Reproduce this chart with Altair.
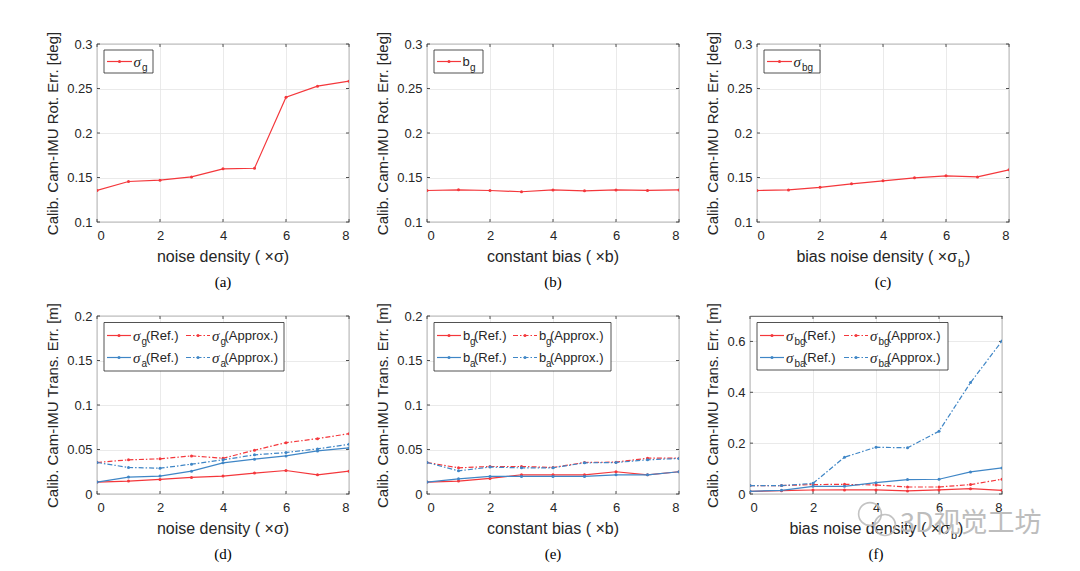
import altair as alt
import pandas as pd

# ---------------- data ----------------
x_vals = [0, 1, 2, 3, 4, 5, 6, 7, 8]

rot_noise_sg = [0.1354, 0.1455, 0.1470, 0.1507, 0.1597, 0.1604, 0.2403, 0.2526, 0.2582]
rot_bias_bg = [0.1354, 0.1362, 0.1354, 0.1340, 0.1360, 0.1350, 0.1360, 0.1355, 0.1360]
rot_bnoise_sbg = [0.1354, 0.1360, 0.1390, 0.1429, 0.1463, 0.1496, 0.1519, 0.1507, 0.1586]

tr_noise_sg_ref = [0.0134, 0.0145, 0.0164, 0.0186, 0.0201, 0.0235, 0.0264, 0.0216, 0.0257]
tr_noise_sg_app = [0.0354, 0.0384, 0.0395, 0.0428, 0.0402, 0.0492, 0.0577, 0.0622, 0.0678]
tr_noise_sa_ref = [0.0134, 0.0190, 0.0201, 0.0257, 0.0350, 0.0391, 0.0428, 0.0484, 0.0518]
tr_noise_sa_app = [0.0354, 0.0298, 0.0290, 0.0335, 0.0384, 0.0440, 0.0466, 0.0507, 0.0559]

tr_bias_bg_ref = [0.0134, 0.0145, 0.0175, 0.0216, 0.0216, 0.0216, 0.0250, 0.0216, 0.0250]
tr_bias_bg_app = [0.0354, 0.0294, 0.0309, 0.0309, 0.0298, 0.0354, 0.0358, 0.0402, 0.0402]
tr_bias_ba_ref = [0.0134, 0.0171, 0.0197, 0.0197, 0.0197, 0.0197, 0.0216, 0.0216, 0.0250]
tr_bias_ba_app = [0.0354, 0.0260, 0.0302, 0.0294, 0.0294, 0.0350, 0.0354, 0.0384, 0.0399]

tr_bn_sbg_ref = [0.0105, 0.0130, 0.0158, 0.0160, 0.0160, 0.0120, 0.0160, 0.0210, 0.0145]
tr_bn_sbg_app = [0.0330, 0.0330, 0.0370, 0.0380, 0.0355, 0.0276, 0.0276, 0.0370, 0.0580]
tr_bn_sba_ref = [0.0105, 0.0145, 0.0300, 0.0300, 0.0447, 0.0566, 0.0580, 0.0870, 0.1026]
tr_bn_sba_app = [0.0330, 0.0330, 0.0420, 0.1447, 0.1840, 0.1816, 0.2470, 0.4380, 0.6020]

x_ticks = [0, 2, 4, 6, 8]
rot_ticks = [0.1, 0.15, 0.2, 0.25, 0.3]
tr_ticks_small = [0, 0.05, 0.1, 0.15, 0.2]
tr_ticks_big = [0, 0.2, 0.4, 0.6]

# ---------------- styles ----------------
RED = "#f4373b"
BLUE = "#3f86c6"
DASHDOT = [5, 2, 1.5, 2]
TXT = "#262626"
W, H = 252, 178
TL = 3  # inward tick length
ONE = pd.DataFrame({"k": [0]})


def xs(ax=None):
    kw = dict(scale=alt.Scale(domain=[0, 8], nice=False))
    if ax is not None:
        kw["axis"] = ax
    return alt.X("x:Q", **kw)


def ys(ydom, ax=None):
    kw = dict(scale=alt.Scale(domain=ydom, nice=False))
    if ax is not None:
        kw["axis"] = ax
    return alt.Y("y:Q", **kw)


def series_layer(vals, color, dashed, ydom):
    df = pd.DataFrame({"x": x_vals, "y": vals})
    kw = dict(color=color, strokeWidth=1.2, clip=True,
              point=alt.OverlayMarkDef(filled=True, size=9, color=color))
    if dashed:
        kw["strokeDash"] = DASHDOT
    return alt.Chart(df).mark_line(**kw).encode(x=xs(), y=ys(ydom))


def axes_layers(ydom, yticks, ytitle):
    df = pd.DataFrame({"x": [0], "y": [ydom[0]]})
    base = alt.Chart(df).mark_point(opacity=0).encode(
        x=xs(alt.Axis(values=x_ticks, title=None, grid=True)),
        y=ys(ydom, alt.Axis(values=yticks, title=ytitle, format="~g", grid=True)),
    )
    xt = alt.Chart(pd.DataFrame({"x": x_ticks}))
    yt = alt.Chart(pd.DataFrame({"y": yticks}))
    rk = dict(color=TXT, strokeWidth=0.8)
    return [
        base,
        xt.mark_rule(**rk).encode(x=xs(), y=alt.value(H), y2=alt.value(H - TL)),
        xt.mark_rule(**rk).encode(x=xs(), y=alt.value(0), y2=alt.value(TL)),
        yt.mark_rule(**rk).encode(y=ys(ydom), x=alt.value(0), x2=alt.value(TL)),
        yt.mark_rule(**rk).encode(y=ys(ydom), x=alt.value(W - TL), x2=alt.value(W)),
    ]


def txt(t, x, y, size=13, font="Liberation Sans", style="normal", color=TXT, align="left"):
    return alt.Chart(ONE).mark_text(
        text=t, align=align, baseline="middle", font=font, fontSize=size,
        fontStyle=style, color=color
    ).encode(x=alt.value(x), y=alt.value(y))


def legend_layers(box, entries):
    x1, x2, y1, y2 = box
    layers = [alt.Chart(ONE).mark_rect(fill="white", stroke=TXT, strokeWidth=0.8).encode(
        x=alt.value(x1), x2=alt.value(x2), y=alt.value(y1), y2=alt.value(y2))]
    for e in entries:
        kw = dict(color=e["color"], strokeWidth=1.2)
        if e["dash"]:
            kw["strokeDash"] = DASHDOT
        layers.append(alt.Chart(ONE).mark_rule(**kw).encode(
            x=alt.value(e["lx"][0]), x2=alt.value(e["lx"][1]), y=alt.value(e["y"])))
        layers.append(alt.Chart(ONE).mark_point(filled=True, size=9, color=e["color"], opacity=1).encode(
            x=alt.value((e["lx"][0] + e["lx"][1]) / 2), y=alt.value(e["y"])))
        if e["sym"] == "σ":
            layers.append(txt("σ", e["sx"], e["y"], size=15, font="Liberation Serif", style="italic"))
        else:
            layers.append(txt(e["sym"], e["sx"], e["y"], size=13))
        layers.append(txt(e["sub"], e["bx"], e["y"] + 6, size=10))
        if e.get("rest"):
            layers.append(txt(e["rest"], e["rx"], e["y"], size=13))
    return layers


def xtitle_layers(xtitle):
    if isinstance(xtitle, str):
        return [txt(xtitle, W / 2, H + 35, size=16, align="center")]
    main, sub = xtitle
    return [txt(main, 200, H + 35, size=16, align="right"),
            txt(sub, 201, H + 42, size=11),
            txt(")", 208, H + 35, size=16)]


def panel(series, ydom, yticks, ytitle, xtitle, label, legend, extra=()):
    layers = axes_layers(ydom, yticks, ytitle)
    for vals, color, dashed in series:
        layers.append(series_layer(vals, color, dashed, ydom))
    layers += legend_layers(*legend)
    layers += xtitle_layers(xtitle)
    layers.append(txt(label, W / 2, H + 60, size=15, font="Liberation Serif",
                      color="black", align="center"))
    layers += list(extra)
    return alt.layer(*layers).properties(width=W, height=H)


ROT_T = "Calib. Cam-IMU Rot. Err. [deg]"
TR_T = "Calib. Cam-IMU Trans. Err. [m]"

pa = panel([(rot_noise_sg, RED, False)], [0.1, 0.3], rot_ticks, ROT_T,
           "noise density ( ×σ)", "(a)",
           ((7, 56, 6, 29), [dict(color=RED, dash=False, lx=(10, 35), y=17.5,
                                  sym="σ", sx=36.5, sub="g", bx=45)]))
pb = panel([(rot_bias_bg, RED, False)], [0.1, 0.3], rot_ticks, ROT_T,
           "constant bias ( ×b)", "(b)",
           ((7, 56, 6, 29), [dict(color=RED, dash=False, lx=(10, 34), y=17.5,
                                  sym="b", sx=35.5, sub="g", bx=43)]))
pc = panel([(rot_bnoise_sbg, RED, False)], [0.1, 0.3], rot_ticks, ROT_T,
           ("bias noise density ( ×σ", "b"), "(c)",
           ((7, 63, 6, 29), [dict(color=RED, dash=False, lx=(10, 35), y=17.5,
                                  sym="σ", sx=36.5, sub="bg", bx=45)]))


def two_col(sub1, sub2, sym, c2x, rest_off):
    return [
        dict(color=RED, dash=False, lx=(10, 34), y=19.5, sym=sym, sx=36, sub=sub1[0],
             bx=sub1[1], rest="(Ref.)", rx=sub1[2]),
        dict(color=RED, dash=True, lx=(c2x, c2x + 24), y=19.5, sym=sym, sx=c2x + 26,
             sub=sub1[0], bx=c2x + 26 + rest_off[0], rest="(Approx.)", rx=c2x + 26 + rest_off[1]),
        dict(color=BLUE, dash=False, lx=(10, 34), y=41.5, sym=sym, sx=36, sub=sub2[0],
             bx=sub2[1], rest="(Ref.)", rx=sub2[2]),
        dict(color=BLUE, dash=True, lx=(c2x, c2x + 24), y=41.5, sym=sym, sx=c2x + 26,
             sub=sub2[0], bx=c2x + 26 + rest_off[0], rest="(Approx.)", rx=c2x + 26 + rest_off[1]),
    ]


WM = "#bdbdbd"
watermark = [
    alt.Chart(ONE).mark_point(shape="circle", filled=False, stroke=WM, strokeWidth=1.6,
                              size=520, opacity=0.9).encode(x=alt.value(120), y=alt.value(H + 20)),
    alt.Chart(ONE).mark_point(shape="circle", filled=False, stroke=WM, strokeWidth=1.6,
                              size=440, opacity=0.9).encode(x=alt.value(135), y=alt.value(H + 31)),
    txt("3D视觉工坊", 150, H + 30, size=27, font="Noto Sans CJK SC", color=WM),
]

pd_ = panel([(tr_noise_sg_ref, RED, False), (tr_noise_sg_app, RED, True),
             (tr_noise_sa_ref, BLUE, False), (tr_noise_sa_app, BLUE, True)],
            [0, 0.2], tr_ticks_small, TR_T, "noise density ( ×σ)", "(d)",
            ((7, 187, 6.5, 55), two_col(("g", 44.5, 49), ("a", 44.5, 49), "σ", 89, (8.5, 12.5))))
pe = panel([(tr_bias_bg_ref, RED, False), (tr_bias_bg_app, RED, True),
            (tr_bias_ba_ref, BLUE, False), (tr_bias_ba_app, BLUE, True)],
           [0, 0.2], tr_ticks_small, TR_T, "constant bias ( ×b)", "(e)",
           ((7, 184, 6.5, 55), two_col(("g", 43, 47), ("a", 43, 47), "b", 86, (7, 11))))
pf = panel([(tr_bn_sbg_ref, RED, False), (tr_bn_sbg_app, RED, True),
            (tr_bn_sba_ref, BLUE, False), (tr_bn_sba_app, BLUE, True)],
           [0, 0.7], tr_ticks_big, TR_T, ("bias noise density ( ×σ", "b"), "(f)",
           ((7, 198, 6.5, 54), two_col(("bg", 44.5, 53), ("ba", 44.5, 53), "σ", 94, (8.5, 17))),
           extra=watermark)

row1 = alt.hconcat(pa, pb, pc, spacing=25)
row2 = alt.hconcat(pd_, pe, pf, spacing=25)
chart = alt.vconcat(row1, row2, spacing=10).properties(
    padding={"left": 37, "top": 22, "right": 5, "bottom": 2}
).configure_view(
    stroke=TXT, strokeWidth=0.8
).configure_axis(
    labelFont="Liberation Sans", labelFontSize=13, labelColor=TXT,
    titleFont="Liberation Sans", titleFontSize=15, titleFontWeight="normal", titleColor=TXT,
    gridColor="#e4e4e4", gridWidth=0.8, domain=False, ticks=False,
    labelPadding=7,
).configure_axisY(titlePadding=6, labelPadding=5)

chart.save("out.html", embed_options={"renderer": "svg", "actions": False})
